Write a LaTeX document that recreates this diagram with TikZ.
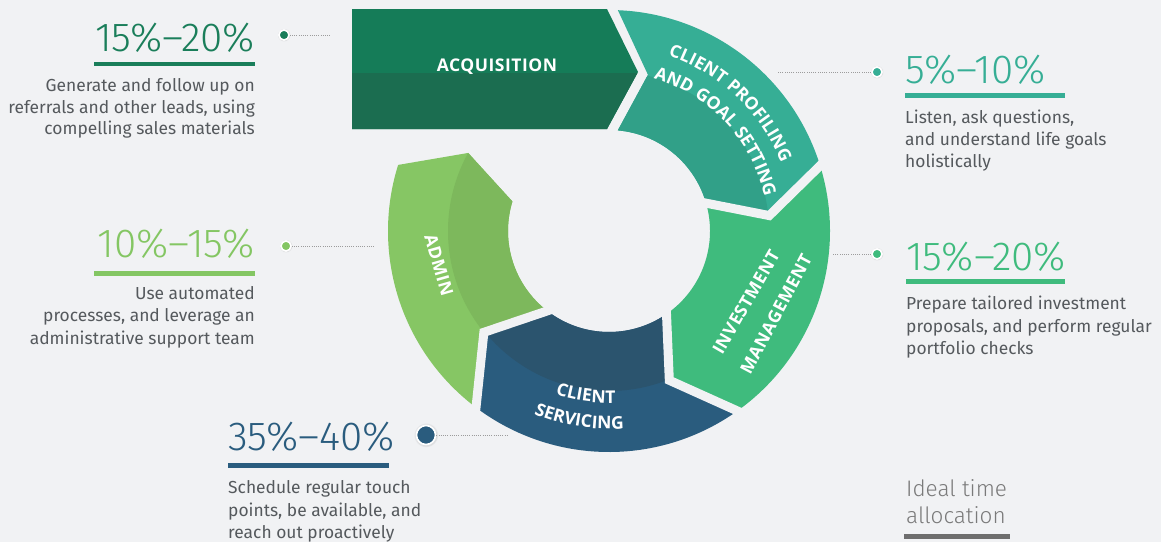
\documentclass[tikz,border=0pt]{standalone}
\usepackage{fontspec}
\setmainfont{Fira Sans}
\newfontfamily\pctfont{Fira Sans Light}
\newfontfamily\labfont{Open Sans}[LetterSpace=3]
\usetikzlibrary{calc,decorations.text,shadows}
\definecolor{bg}{HTML}{F1F2F4}
\definecolor{acqL}{HTML}{157C58}
\definecolor{acqD}{HTML}{1B6D50}
\definecolor{proL}{HTML}{36AE95}
\definecolor{proD}{HTML}{31A088}
\definecolor{inv}{HTML}{3FBB7D}
\definecolor{serL}{HTML}{2A5C7E}
\definecolor{serD}{HTML}{2B546E}
\definecolor{admL}{HTML}{86C664}
\definecolor{admD}{HTML}{7DB85C}
\definecolor{acqP}{HTML}{1A7E5A}
\definecolor{proP}{HTML}{36AE95}
\definecolor{admP}{HTML}{84C663}
\definecolor{invP}{HTML}{3FBB7D}
\definecolor{serP}{HTML}{2A5C7E}
\definecolor{bodyC}{HTML}{55595D}
\definecolor{idealC}{HTML}{7A7A7A}
\definecolor{idealbar}{HTML}{6E6E6E}
\definecolor{dotline}{HTML}{9C9C9C}
% segment path: outer/tip/inner angles of start edge, then of end edge
\newcommand{\segpath}[6]{($(c)+(#1:221pt)$) arc[start angle=#1, end angle=#4, radius=221pt] -- ($(c)+(#5:161pt)$) -- ($(c)+(#6:101pt)$) arc[start angle=#6, end angle=#3, radius=101pt] -- ($(c)+(#2:161pt)$) -- cycle}
\newcommand{\gapchev}[4]{%
  \coordinate (#1o) at ($(c)+(#2:221pt)$);
  \coordinate (#1t) at ($(c)+(#3:161pt)$);
  \coordinate (#1i) at ($(c)+(#4:101pt)$);
  \draw[gapst] ($(#1t)!1.25!(#1o)$) -- (#1t) -- ($(#1t)!1.3!(#1i)$);}
\newcommand{\labfmt}{\labfont\bfseries\fontsize{17.5}{18}\selectfont\color{white}}
\tikzset{
  gapst/.style={draw=bg, line width=9pt, line join=miter, line cap=butt},
  ringlab/.style={text=white, font=\labfont\bfseries\fontsize{17.5}{18}\selectfont, inner sep=0pt},
  pcttext/.style={font=\pctfont\fontsize{40.5}{42}\selectfont, inner sep=0pt},
  bodytext/.style={text=bodyC, font=\fontsize{17.4}{20}\selectfont, inner sep=0pt},
  pdot/.style={circle, inner sep=0pt, minimum size=10pt, draw=white, line width=1.6pt,
    circular drop shadow={shadow xshift=0pt, shadow yshift=0pt, shadow scale=1.3, opacity=0.18}},
  conn/.style={draw=dotline, line width=0.9pt, dash pattern=on 0.9pt off 1.3pt},
}
\begin{document}
\begin{tikzpicture}[x=1pt,y=-1pt]
\fill[bg] (0,0) rectangle (1161,542);
\useasboundingbox (0,0) rectangle (1161,542);
\coordinate (c) at (609,231);

% ---- acquisition arrow
\fill[acqL] (352,9) -- (607,9) -- (638,72) -- (607,129) -- (352,129) -- cycle;
\begin{scope}
  \clip (352,9) -- (607,9) -- (638,72) -- (607,129) -- (352,129) -- cycle;
  \fill[acqD] (340,73) rectangle (650,140);
\end{scope}

% ---- client profiling
\fill[proL] \segpath{87.7}{76}{85}{17.2}{5.5}{16};
\begin{scope}
  \clip \segpath{87.7}{76}{85}{17.2}{5.5}{16};
  \fill[proD] (c) circle[radius=160pt];
\end{scope}
% ---- investment
\fill[inv] \segpath{17.2}{5.5}{16}{-54.5}{-68}{-55.3};
% ---- client servicing
\fill[serL] \segpath{-54.5}{-68}{-55.3}{-127}{-141}{-127.7};
\begin{scope}
  \clip \segpath{-54.5}{-68}{-55.3}{-127}{-141}{-127.7};
  \fill[serD] (c) circle[radius=160pt];
\end{scope}
% ---- admin
\fill[admL] \segpath{-127}{-141}{-127.7}{-197.4}{-209}{-197};
\begin{scope}
  \clip \segpath{-127}{-141}{-127.7}{-197.4}{-209}{-197};
  \fill[admD] (c) circle[radius=161pt];
\end{scope}
% gaps
\gapchev{g2}{17.2}{5.5}{16}
\gapchev{g3}{-54.5}{-68}{-55.3}
\gapchev{g4}{-127}{-141}{-127.7}

% ---- ring labels
\node[ringlab] (acqlab) at (497,67) {ACQUISITION};
\path[decorate, decoration={text along path, text align=center,
  text={|\labfmt|CLIENT PROFILING}}]
  ($(c)+(82:185pt)$) arc[start angle=82, end angle=11, radius=185pt];
\path[decorate, decoration={text along path, text align=center,
  text={|\labfmt|AND GOAL SETTING}}]
  ($(c)+(85:159pt)$) arc[start angle=85, end angle=1, radius=159pt];
\node[ringlab, rotate=60] (invlab1) at (746,302) {INVESTMENT};
\node[ringlab, rotate=62] (invlab2) at (776,314) {MANAGEMENT};
\path[decorate, decoration={text along path, text align=center,
  text={|\labfmt|CLIENT}}]
  ($(c)+(-113:172pt)$) arc[start angle=-113, end angle=-83, radius=172pt];
\path[decorate, decoration={text along path, text align=center,
  text={|\labfmt|SERVICING}}]
  ($(c)+(-122:198pt)$) arc[start angle=-122, end angle=-76, radius=198pt];
\node[ringlab, rotate=-74] (admlab) at (439,265) {ADMIN};

% ---- acquisition callout
\node[pcttext, text=acqP, anchor=base east] (pct1) at (255,51) {15\%–20\%};
\fill[acqP] (94,61.5) rectangle (255,66);
\node[bodytext, anchor=base east] (t1a) at (255,91) {Generate and follow up on};
\node[bodytext, anchor=base east] (t1b) at (255,113) {referrals and other leads, using};
\node[bodytext, anchor=base east] (t1c) at (255,134.5) {compelling sales materials};
\node[pdot, fill=acqP] (d1) at (284,35) {};
\coordinate (e1) at (331,35);
\draw[conn] (d1) -- (e1);

% ---- profiling callout
\node[pcttext, text=proP, anchor=base west] (pct2) at (905,83) {5\%–10\%};
\fill[proP] (905,93) rectangle (1065,98);
\node[bodytext, anchor=base west] (t2a) at (905,123) {Listen, ask questions,};
\node[bodytext, anchor=base west] (t2b) at (905,145) {and understand life goals};
\node[bodytext, anchor=base west] (t2c) at (905,167) {holistically};
\node[pdot, fill=proP] (d2) at (877,72) {};
\coordinate (e2) at (777,72);
\draw[conn] (d2) -- (e2);

% ---- admin callout
\node[pcttext, text=admP, anchor=base east] (pct3) at (255,257) {10\%–15\%};
\fill[admP] (94,271) rectangle (255,276);
\node[bodytext, anchor=base east] (t3a) at (255,299) {Use automated};
\node[bodytext, anchor=base east] (t3b) at (255,321.5) {processes, and leverage an};
\node[bodytext, anchor=base east] (t3c) at (255,344) {administrative support team};
\node[pdot, fill=admP] (d3) at (286,246) {};
\coordinate (e3) at (375,246);
\draw[conn] (d3) -- (e3);

% ---- investment callout
\node[pcttext, text=invP, anchor=base west] (pct4) at (906,270) {15\%–20\%};
\fill[invP] (906,279) rectangle (1065,284);
\node[bodytext, anchor=base west] (t4a) at (906,309) {Prepare tailored investment};
\node[bodytext, anchor=base west] (t4b) at (906,332) {proposals, and perform regular};
\node[bodytext, anchor=base west] (t4c) at (906,354) {portfolio checks};
\node[pdot, fill=invP] (d4) at (877,254) {};
\coordinate (e4) at (833,254);
\draw[conn] (d4) -- (e4);

% ---- servicing callout
\node[pcttext, text=serP, anchor=base west] (pct5) at (228,450) {35\%–40\%};
\fill[serP] (228,463) rectangle (389,468);
\node[bodytext, anchor=base west] (t5a) at (228,493) {Schedule regular touch};
\node[bodytext, anchor=base west] (t5b) at (228,516) {points, be available, and};
\node[bodytext, anchor=base west] (t5c) at (228,538) {reach out proactively};
\node[pdot, fill=serP, minimum size=19pt] (d5) at (426,435) {};
\coordinate (e5) at (507,435);
\draw[conn] (d5) -- (e5);

% ---- legend
\node[font=\pctfont\fontsize{22.5}{24}\selectfont, text=idealC, anchor=base west, inner sep=0pt] (ideal1) at (906,496) {Ideal time};
\node[font=\pctfont\fontsize{22.5}{24}\selectfont, text=idealC, anchor=base west, inner sep=0pt] (ideal2) at (906,523) {allocation};
\fill[idealbar] (904,534) rectangle (1010,539);
\end{tikzpicture}
\end{document}
